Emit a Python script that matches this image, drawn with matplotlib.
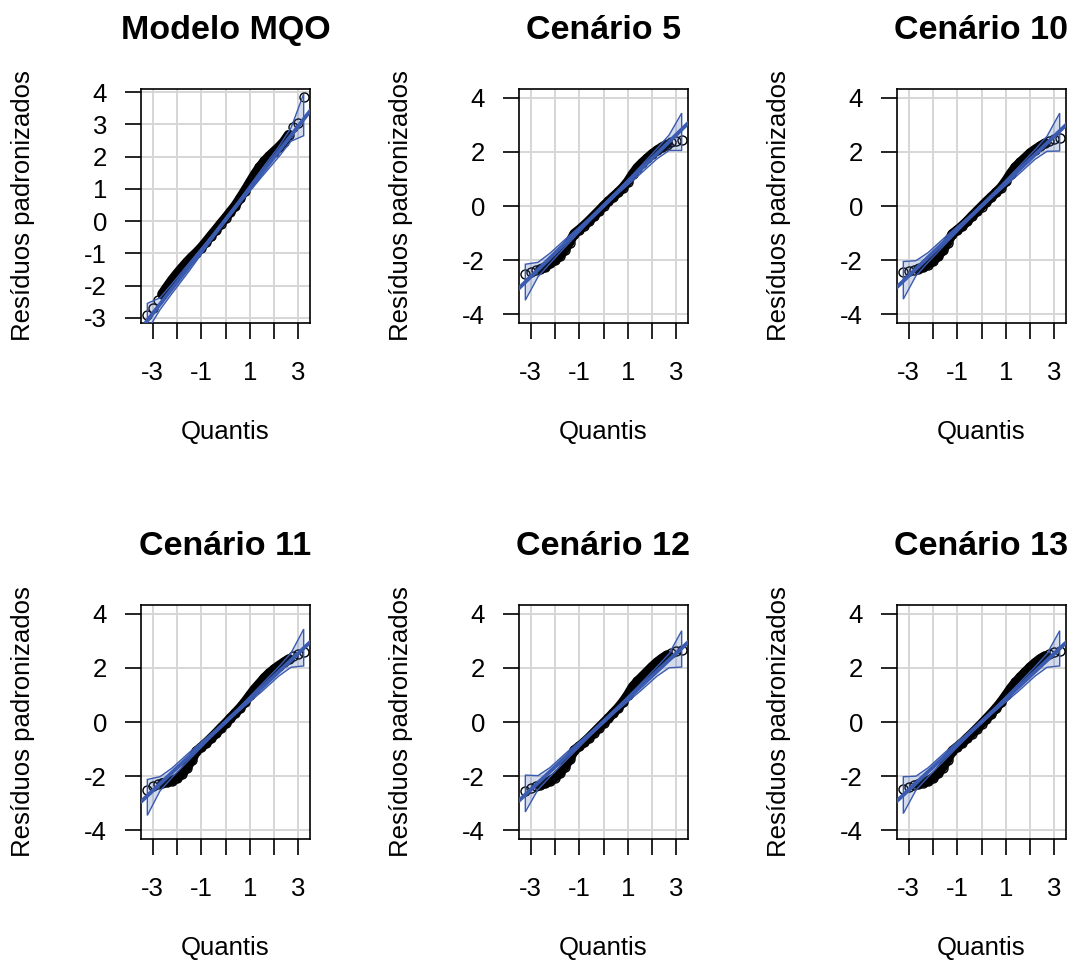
import numpy as np
import matplotlib
matplotlib.use('Agg')
import matplotlib.pyplot as plt

plt.rcParams['font.family'] = ['Liberation Sans', 'DejaVu Sans']
plt.rcParams['axes.unicode_minus'] = False

# Panels
titles = ['Modelo MQO', 'Cenário 5', 'Cenário 10', 'Cenário 11', 'Cenário 12', 'Cenário 13']

# Theoretical normal quantiles (x axis)
q = [-3.22, -3.0, -2.8, -2.6, -2.4, -2.2, -2.0, -1.8, -1.6, -1.4, -1.2, -1.0, -0.8,
     -0.6, -0.4, -0.2, 0.0, 0.2, 0.4, 0.6, 0.8, 1.0, 1.2, 1.4, 1.6, 1.8, 2.0,
     2.2, 2.4, 2.6, 2.8, 3.0, 3.22]

# Standardised residuals, sorted
res_mqo = [-2.91, -2.70, -2.46, -2.25, -2.03, -1.82, -1.63, -1.45, -1.28, -1.12, -0.98,
           -0.82, -0.64, -0.45, -0.27, -0.08, 0.10, 0.29, 0.48, 0.71, 0.95, 1.20,
           1.45, 1.67, 1.86, 2.02, 2.16, 2.30, 2.46, 2.68, 2.92, 3.04, 3.85]
res_c5 = [-2.50, -2.42, -2.38, -2.33, -2.25, -2.12, -2.00, -1.84, -1.62, -1.35, -1.02,
          -0.88, -0.72, -0.55, -0.37, -0.19, 0.00, 0.17, 0.34, 0.50, 0.68, 0.90,
          1.18, 1.42, 1.60, 1.76, 1.92, 2.05, 2.17, 2.27, 2.35, 2.40, 2.45]
res_c10 = [-2.45, -2.40, -2.36, -2.31, -2.26, -2.16, -2.03, -1.86, -1.64, -1.36, -1.03,
           -0.89, -0.74, -0.57, -0.38, -0.20, -0.02, 0.16, 0.33, 0.50, 0.68, 0.92,
           1.20, 1.44, 1.62, 1.78, 1.95, 2.08, 2.20, 2.31, 2.40, 2.46, 2.50]
res_c11 = [-2.50, -2.38, -2.30, -2.25, -2.22, -2.17, -2.08, -1.92, -1.70, -1.42, -1.08,
           -0.93, -0.77, -0.60, -0.42, -0.23, -0.05, 0.14, 0.33, 0.52, 0.74, 0.98,
           1.22, 1.42, 1.63, 1.80, 1.95, 2.08, 2.20, 2.32, 2.42, 2.52, 2.57]
res_c12 = [-2.55, -2.45, -2.38, -2.32, -2.26, -2.17, -2.05, -1.88, -1.66, -1.38, -1.04,
           -0.90, -0.75, -0.58, -0.40, -0.22, -0.04, 0.14, 0.33, 0.52, 0.74, 1.00,
           1.30, 1.50, 1.68, 1.86, 2.04, 2.20, 2.34, 2.46, 2.56, 2.62, 2.66]
res_c13 = [-2.47, -2.40, -2.34, -2.29, -2.24, -2.17, -2.06, -1.90, -1.68, -1.40, -1.06,
           -0.92, -0.77, -0.60, -0.43, -0.25, -0.07, 0.12, 0.31, 0.51, 0.73, 0.98,
           1.24, 1.46, 1.66, 1.84, 2.02, 2.18, 2.32, 2.43, 2.52, 2.58, 2.62]

# Reference line (slope, intercept)
line_slope = [0.97, 0.875, 0.86, 0.846, 0.84, 0.84]
line_icpt = [0.04, 0.01, 0.0, 0.0, 0.02, 0.01]

# Confidence envelope
env_x = [-3.22, -2.7, -2.2, -1.5, -0.5, 0.5, 1.5, 2.2, 2.7, 3.22]
up_mqo = [-2.55, -2.38, -1.94, -1.30, -0.39, 0.59, 1.62, 2.32, 2.90, 3.95]
lo_mqo = [-3.40, -2.75, -2.24, -1.55, -0.51, 0.47, 1.38, 2.00, 2.48, 2.65]
up_c5 = [-2.15, -2.08, -1.74, -1.17, -0.38, 0.50, 1.44, 2.12, 2.62, 3.43]
lo_c5 = [-3.48, -2.62, -2.12, -1.44, -0.50, 0.38, 1.17, 1.74, 2.05, 2.05]
up_c10 = [-2.05, -2.02, -1.72, -1.15, -0.37, 0.49, 1.42, 2.08, 2.58, 3.43]
lo_c10 = [-3.44, -2.58, -2.08, -1.42, -0.49, 0.37, 1.15, 1.72, 2.02, 2.03]
up_c11 = [-2.12, -2.02, -1.70, -1.13, -0.36, 0.48, 1.40, 2.05, 2.55, 3.43]
lo_c11 = [-3.45, -2.55, -2.05, -1.40, -0.48, 0.36, 1.13, 1.70, 2.02, 2.07]
up_c12 = [-1.96, -1.98, -1.68, -1.11, -0.35, 0.49, 1.39, 2.04, 2.52, 3.37]
lo_c12 = [-3.32, -2.50, -2.02, -1.38, -0.47, 0.37, 1.13, 1.69, 2.00, 2.03]
up_c13 = [-2.02, -2.00, -1.69, -1.12, -0.36, 0.48, 1.39, 2.04, 2.53, 3.37]
lo_c13 = [-3.38, -2.52, -2.03, -1.39, -0.48, 0.36, 1.12, 1.69, 2.02, 2.07]

residuals = [res_mqo, res_c5, res_c10, res_c11, res_c12, res_c13]
uppers = [up_mqo, up_c5, up_c10, up_c11, up_c12, up_c13]
lowers = [lo_mqo, lo_c5, lo_c10, lo_c11, lo_c12, lo_c13]

blue = '#3b5bb0'
W, H = 1072, 960
col_left = [141, 519, 897]
row_top = [89, 605]
box_w, box_h = 169, 234

fig = plt.figure(figsize=(W / 100, H / 100), dpi=100)

for i in range(6):
    r, c = divmod(i, 3)
    ax = fig.add_axes([col_left[c] / W, 1 - (row_top[r] + box_h) / H, box_w / W, box_h / H])
    qq = np.array(q)
    rr = np.array(residuals[i])

    # points: dense middle drawn as a thick band, tails as open circles
    mid = np.abs(qq) <= 2.6
    ax.plot(qq[mid], rr[mid], color='k', lw=7, solid_capstyle='round', zorder=3)
    ax.plot(qq, rr, 'o', ms=6.5, mfc='none', mec='k', mew=1.0, zorder=3)

    # envelope
    ex = env_x + env_x[::-1]
    ey = uppers[i] + lowers[i][::-1]
    ax.fill(ex, ey, facecolor=(0.23, 0.36, 0.69, 0.22), edgecolor=blue, lw=1.0, zorder=4)
    ax.axline((0, line_icpt[i]), slope=line_slope[i], color=blue, lw=2.8, zorder=5)

    ax.set_xlim(-3.48, 3.48)
    if i == 0:
        ax.set_ylim(-3.16, 4.1)
        ax.set_yticks(range(-3, 5))
    else:
        ax.set_ylim(-4.32, 4.32)
        ax.set_yticks([-4, -2, 0, 2, 4])
    ax.set_xticks(range(-3, 4))
    ax.set_xticklabels(['-3', '', '-1', '', '1', '', '3'])

    ax.grid(True, color='#d6d6d6', lw=1.4)
    ax.set_axisbelow(True)
    for s in ax.spines.values():
        s.set_linewidth(1.2)
    ax.tick_params(axis='both', length=11.5, width=1.2, labelsize=18.5)
    ax.tick_params(axis='x', pad=16)
    ax.tick_params(axis='y', pad=13)

    ax.set_title(titles[i], fontsize=24.5, fontweight='bold', pad=36)
    ax.set_xlabel('Quantis', fontsize=18.5, labelpad=25)
    ax.set_ylabel('Resíduos padronizados', fontsize=18.5, labelpad=35)

fig.savefig('out.png', dpi=100)
